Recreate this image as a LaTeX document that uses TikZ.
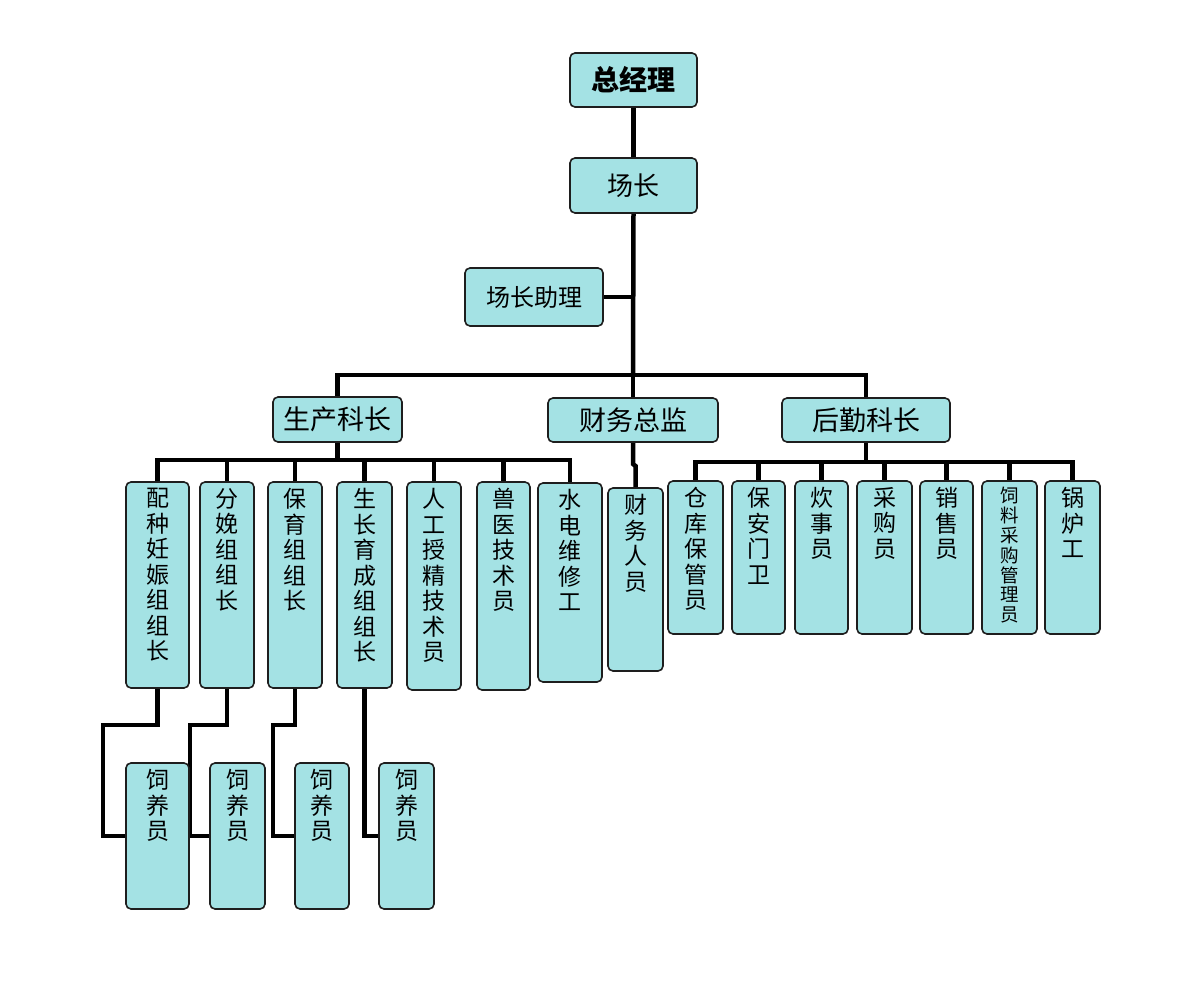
\documentclass[tikz,border=0pt]{standalone}
\usepackage{fontspec}
\setmainfont{Noto Sans CJK SC}
\definecolor{boxfill}{RGB}{164,226,228}
\definecolor{boxline}{RGB}{30,30,30}
\pgfdeclarelayer{bg}
\pgfsetlayers{bg,main}
\newcommand\fsz[1]{\fontsize{#1}{#1}\selectfont}
\tikzset{
  box/.style={draw=boxline, line width=1.6pt, fill=boxfill, rounded corners=5pt, inner sep=0pt},
  conn/.style={draw=black, line width=4.5pt, line join=miter},
  vt/.style={inner sep=0pt, align=center, anchor=north, font=\fontsize{23}{25.5}\selectfont},
  vts/.style={inner sep=0pt, align=center, anchor=north, font=\fontsize{18.5}{19.8}\selectfont},
}
% horizontal box: name x1 y1 x2 y2 font text
\newcommand\hbx[7]{\node[box, minimum width={#4-#2}, minimum height={#5-#3}, font=#6] (#1) at ({(#2+#4)/2},{(#3+#5)/2}) {#7};}
% vertical box: name x1 y1 x2 y2 style text
\newcommand\vbx[7]{\node[box, minimum width={#4-#2}, minimum height={#5-#3}] (#1) at ({(#2+#4)/2},{(#3+#5)/2}) {};
  \node[#6] (#1t) at ([yshift=-7pt]#1.north) {#7};}
\begin{document}
\begin{tikzpicture}[x=1pt,y=-1pt]
\useasboundingbox (0,0) rectangle (1200,1000);

\hbx{zjl}{570}{53}{697}{107}{\fsz{28}\bfseries}{总经理}
\hbx{cz}{570}{158}{697}{213}{\fsz{26}}{场长}
\hbx{czzl}{465}{268}{603}{326}{\fsz{24}}{场长助理}
\hbx{sc}{273}{397}{402}{442}{\fsz{27}}{生产科长}
\hbx{cw}{548}{398}{718}{442}{\fsz{27}}{财务总监}
\hbx{hq}{782}{398}{950}{442}{\fsz{27}}{后勤科长}

\vbx{p1}{126}{482}{189}{688}{vt}{配\\种\\妊\\娠\\组\\组\\长}
\vbx{p2}{200}{482}{254}{688}{vt}{分\\娩\\组\\组\\长}
\vbx{p3}{268}{482}{322}{688}{vt}{保\\育\\组\\组\\长}
\vbx{p4}{337}{482}{392}{688}{vt}{生\\长\\育\\成\\组\\组\\长}
\vbx{p5}{407}{482}{461}{690}{vt}{人\\工\\授\\精\\技\\术\\员}
\vbx{p6}{477}{482}{530}{690}{vt}{兽\\医\\技\\术\\员}
\vbx{p7}{538}{483}{602}{682}{vt}{水\\电\\维\\修\\工}

\vbx{cwry}{608}{488}{663}{671}{vt}{财\\务\\人\\员}

\vbx{l1}{668}{481}{723}{634}{vt}{仓\\库\\保\\管\\员}
\vbx{l2}{732}{481}{785}{634}{vt}{保\\安\\门\\卫}
\vbx{l3}{795}{481}{848}{634}{vt}{炊\\事\\员}
\vbx{l4}{857}{481}{912}{634}{vt}{采\\购\\员}
\vbx{l5}{920}{481}{973}{634}{vt}{销\\售\\员}
\vbx{l6}{982}{481}{1037}{634}{vts}{饲\\料\\采\\购\\管\\理\\员}
\vbx{l7}{1045}{481}{1100}{634}{vt}{锅\\炉\\工}

\vbx{s1}{126}{763}{189}{909}{vt}{饲\\养\\员}
\vbx{s2}{210}{763}{265}{909}{vt}{饲\\养\\员}
\vbx{s3}{295}{763}{349}{909}{vt}{饲\\养\\员}
\vbx{s4}{379}{763}{434}{909}{vt}{饲\\养\\员}

\coordinate (tb) at (633,375);
\coordinate (pb) at (337.5,460);
\coordinate (lb) at (866,462);
\coordinate (fj1) at (633,464);
\coordinate (fj2) at (635.5,466);
\coordinate (e1) at (103,725);
\coordinate (e2) at (190,725);
\coordinate (e3) at (273,725);

\begin{pgfonlayer}{bg}
\fill[white] (0,0) rectangle (1200,1000);
\draw[conn] (zjl.south) -- (cz.north);
\draw[conn] (cz.south) -- (tb);
\draw[conn] (czzl.east) -- (czzl.east -| cz.south);
\draw[conn] (tb) -| (sc.north);
\draw[conn] (tb) -| (hq.north);
\draw[conn] (tb) -- (cw.north);
\draw[conn] (sc.south) -- (pb);
\foreach \i in {1,...,7} {\draw[conn] (pb) -| (p\i.north);}
\draw[conn] (hq.south) -- (lb);
\foreach \i in {1,...,7} {\draw[conn] (lb) -| (l\i.north);}
\draw[conn] (cw.south) -- (fj1) -- (fj2) -- (cwry.north);
\draw[conn] (p1.south) |- (e1) |- (s1.west);
\draw[conn] (p2.south) |- (e2) |- (s2.west);
\draw[conn] (p3.south) |- (e3) |- (s3.west);
\draw[conn] (p4.south) |- (s4.west);
\end{pgfonlayer}
\end{tikzpicture}
\end{document}
